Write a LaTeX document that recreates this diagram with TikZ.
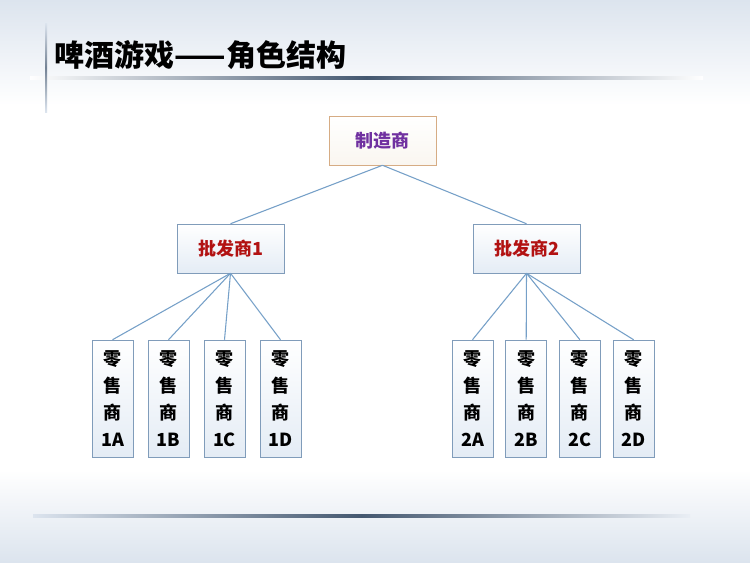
\documentclass[tikz,border=0pt]{standalone}
\usepackage{fontspec}
\setmainfont{Noto Sans CJK SC}
\usepackage{tikz}

\definecolor{boxline}{RGB}{128,156,186}
\definecolor{boxfill}{RGB}{228,236,245}
\definecolor{makerline}{RGB}{214,172,132}
\definecolor{makerfill}{RGB}{250,246,240}
\definecolor{linkblue}{RGB}{118,160,200}
\definecolor{makertext}{RGB}{112,48,160}
\definecolor{saletext}{RGB}{178,18,18}
\definecolor{bgblue}{RGB}{220,228,238}
\definecolor{rulemid}{RGB}{68,88,112}

\begin{document}
\begin{tikzpicture}[x=0.75pt,y=0.75pt,yscale=-1,
  box/.style={draw=boxline, top color=white, bottom color=boxfill, inner sep=0pt,
    minimum width=80.25pt, minimum height=36.75pt, font=\bfseries\fontsize{13.5}{15}\selectfont},
  maker/.style={box, draw=makerline, bottom color=makerfill, text=makertext},
  whole/.style={box, text=saletext},
  shop/.style={box, minimum width=30.75pt, minimum height=87.75pt, align=center,
    font=\bfseries\fontsize{13.5}{20.25}\selectfont},
  link/.style={draw=linkblue, line width=0.8pt}]
\useasboundingbox (0,0) rectangle (750,562);

%Shape: Background
\fill [white] (0,0) rectangle (750,562);
\shade [top color=bgblue, bottom color=white] (0,0) rectangle (750,105);
\shade [top color=white, bottom color=bgblue] (0,470) rectangle (750,562);

%Shape: Title rules
\shade [left color=white, right color=white, middle color=rulemid] (30,76.8) rectangle (703,79.2);
\shade [top color=bgblue, bottom color=bgblue, middle color=rulemid!75] (45,23) rectangle (47.2,112);
\shade [left color=bgblue, right color=bgblue!60, middle color=rulemid] (33,514.8) rectangle (690,517.2);

% Text Node
\node (title) [anchor=west, font=\bfseries\fontsize{22.5}{26}\selectfont] at (50,55) {啤酒游戏——角色结构};

% Maker and wholesalers
\node (maker) [maker] at (382.5,140.5) {制造商};
\node (whole1) [whole] at (230.5,248.5) {批发商1};
\node (whole2) [whole] at (526.5,248.5) {批发商2};

% Retailers
\node (shop1A) [shop] at (112.5,398.5) {零\\售\\商\\1A};
\node (shop1B) [shop] at (168.5,398.5) {零\\售\\商\\1B};
\node (shop1C) [shop] at (224.5,398.5) {零\\售\\商\\1C};
\node (shop1D) [shop] at (280.5,398.5) {零\\售\\商\\1D};
\node (shop2A) [shop] at (472.5,398.5) {零\\售\\商\\2A};
\node (shop2B) [shop] at (526.2,398.5) {零\\售\\商\\2B};
\node (shop2C) [shop] at (579.9,398.5) {零\\售\\商\\2C};
\node (shop2D) [shop] at (633.6,398.5) {零\\售\\商\\2D};

% Links
\draw [link] (maker.south) -- (whole1.north);
\draw [link] (maker.south) -- (whole2.north);
\draw [link] (whole1.south) -- (shop1A.north);
\draw [link] (whole1.south) -- (shop1B.north);
\draw [link] (whole1.south) -- (shop1C.north);
\draw [link] (whole1.south) -- (shop1D.north);
\draw [link] (whole2.south) -- (shop2A.north);
\draw [link] (whole2.south) -- (shop2B.north);
\draw [link] (whole2.south) -- (shop2C.north);
\draw [link] (whole2.south) -- (shop2D.north);
\end{tikzpicture}
\end{document}
